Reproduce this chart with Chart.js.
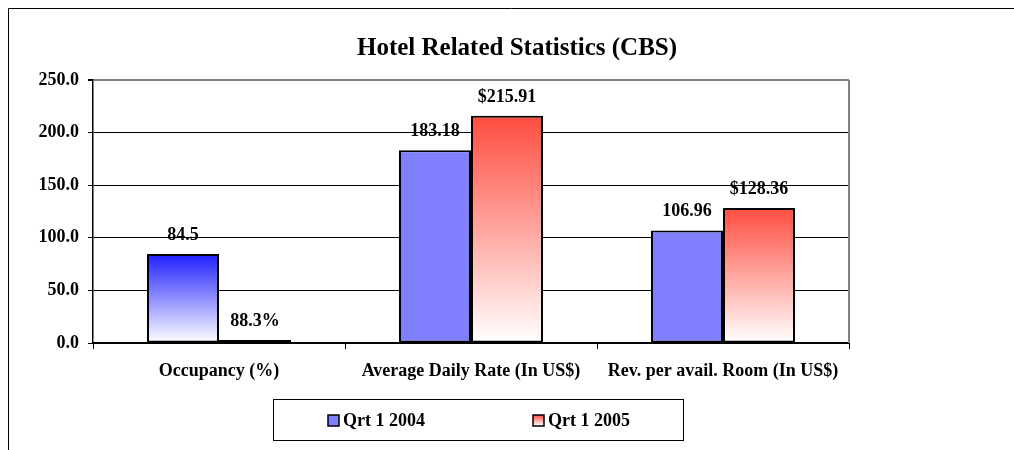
<!DOCTYPE html>
<html>
<head>
<meta charset="utf-8">
<script src="https://cdn.jsdelivr.net/npm/chart.js@4.4.0/dist/chart.umd.min.js"></script>
<style>
  html, body { margin: 0; padding: 0; background: #fff; }
  #wrap { width: 1014px; height: 450px; position: relative; }
</style>
</head>
<body>
<div id="wrap"><canvas id="hotelChart"></canvas></div>
<script>
// dữ liệu
const chartTitle = "Hotel Related Statistics (CBS)";
const categories = ["Occupancy (%)", "Average Daily Rate (In US$)", "Rev. per avail. Room (In US$)"];
const seriesNames = ["Qrt 1 2004", "Qrt 1 2005"];
const q1_2004 = [84.5, 183.18, 106.96];
const q1_2005 = [0.883, 215.91, 128.36];
const labels2004 = ["84.5", "183.18", "106.96"];
const labels2005 = ["88.3%", "$215.91", "$128.36"];
const yMin = 0, yMax = 250, yStep = 50;

const FONT = "'Liberation Serif', 'Times New Roman', serif";

// gradient từ màu đậm ở đỉnh cột xuống trắng ở đáy
const barGradient = (context, topColor) => {
    const chart = context.chart;
    const yScale = chart.scales.y;
    if (!chart.chartArea || !yScale) return topColor;
    const value = context.raw;
    const top = yScale.getPixelForValue(value);
    const bottom = yScale.getPixelForValue(0);
    if (bottom - top < 2) return "#000000";
    const g = chart.ctx.createLinearGradient(0, top, 0, bottom);
    g.addColorStop(0, topColor);
    g.addColorStop(1, "#ffffff");
    return g;
};

const decorPlugin = {
    id: "decor",
    beforeDraw(chart) {
        const ctx = chart.ctx;
        ctx.save();
        ctx.fillStyle = "#fff";
        ctx.fillRect(0, 0, chart.width, chart.height);
        // khung ngoài
        ctx.strokeStyle = "#000";
        ctx.lineWidth = 1;
        ctx.beginPath();
        ctx.moveTo(8.5, chart.height);
        ctx.lineTo(8.5, 8.5);
        ctx.lineTo(chart.width, 8.5);
        ctx.stroke();
        // tiêu đề
        ctx.fillStyle = "#000";
        ctx.font = "bold 25px " + FONT;
        ctx.textAlign = "center";
        ctx.textBaseline = "alphabetic";
        ctx.fillText(chartTitle, 517, 55);
        ctx.restore();
    },
    afterDatasetsDraw(chart) {
        const ctx = chart.ctx;
        const area = chart.chartArea;
        ctx.save();
        // viền phải vùng vẽ màu xám
        ctx.strokeStyle = "#808080";
        ctx.lineWidth = 2;
        ctx.beginPath();
        ctx.moveTo(area.right, area.top);
        ctx.lineTo(area.right, area.bottom);
        ctx.stroke();

        // nhãn giá trị
        const allLabels = [labels2004, labels2005];
        ctx.fillStyle = "#000";
        ctx.font = "bold 18px " + FONT;
        ctx.textAlign = "center";
        ctx.textBaseline = "middle";
        chart.data.datasets.forEach((ds, i) => {
            chart.getDatasetMeta(i).data.forEach((bar, j) => {
                ctx.fillText(allLabels[i][j], bar.x, bar.y - 19);
            });
        });

        // chú thích
        ctx.strokeStyle = "#000";
        ctx.lineWidth = 1;
        ctx.strokeRect(273.5, 399.5, 410, 41);
        const markers = [328, 533];
        ctx.textAlign = "left";
        ctx.font = "bold 18px " + FONT;
        seriesNames.forEach((name, i) => {
            const mx = markers[i], my = 415;
            if (i === 0) {
                ctx.fillStyle = "#8080FF";
            } else {
                const g = ctx.createLinearGradient(0, my, 0, my + 11);
                g.addColorStop(0, "#FF4D40");
                g.addColorStop(1, "#ffffff");
                ctx.fillStyle = g;
            }
            ctx.fillRect(mx, my, 11, 11);
            ctx.lineWidth = 1.5;
            ctx.strokeRect(mx, my, 11, 11);
            ctx.fillStyle = "#000";
            ctx.fillText(name, mx + 15, 421);
        });
        ctx.restore();
    }
};

new Chart(document.getElementById("hotelChart"), {
    type: "bar",
    data: {
        labels: categories,
        datasets: [{
            label: seriesNames[0],
            data: q1_2004,
            backgroundColor: (c) => c.dataIndex === 0 ? barGradient(c, "#2020FF") : "#8080FF",
            borderColor: "#000",
            borderWidth: 2,
            borderSkipped: false,
            categoryPercentage: 2 / 3.5,
            barPercentage: 1
        }, {
            label: seriesNames[1],
            data: q1_2005,
            backgroundColor: (c) => barGradient(c, "#FF4D40"),
            borderColor: "#000",
            borderWidth: 2,
            borderSkipped: false,
            categoryPercentage: 2 / 3.5,
            barPercentage: 1,
            minBarLength: 3
        }]
    },
    options: {
        responsive: true,
        maintainAspectRatio: false,
        animation: false,
        layout: { padding: { left: 8, right: 165, top: 80, bottom: 0 } },
        plugins: {
            legend: { display: false },
            title: { display: false },
            tooltip: { enabled: false }
        },
        scales: {
            x: {
                afterFit: (scale) => { scale.height = 107; },
                grid: {
                    offset: true,
                    drawOnChartArea: false,
                    drawTicks: true,
                    tickLength: 6,
                    color: "#000",
                    tickColor: "#000"
                },
                border: { color: "#000", width: 2 },
                ticks: {
                    color: "#000",
                    padding: 12,
                    maxRotation: 0,
                    font: { family: FONT, size: 18, weight: "bold" }
                }
            },
            y: {
                min: yMin,
                max: yMax,
                afterFit: (scale) => { scale.width = 85; },
                grid: {
                    color: (c) => c.tick && c.tick.value === yMax ? "#808080" : "#000",
                    lineWidth: (c) => c.tick && c.tick.value === yMax ? 2 : 1,
                    tickColor: "#000",
                    tickLength: 5
                },
                border: { color: "#000", width: 1.5 },
                ticks: {
                    stepSize: yStep,
                    color: "#000",
                    padding: 9,
                    font: { family: FONT, size: 18, weight: "bold" },
                    callback: (v) => Number(v).toFixed(1)
                }
            }
        }
    },
    plugins: [decorPlugin]
});
</script>
</body>
</html>
